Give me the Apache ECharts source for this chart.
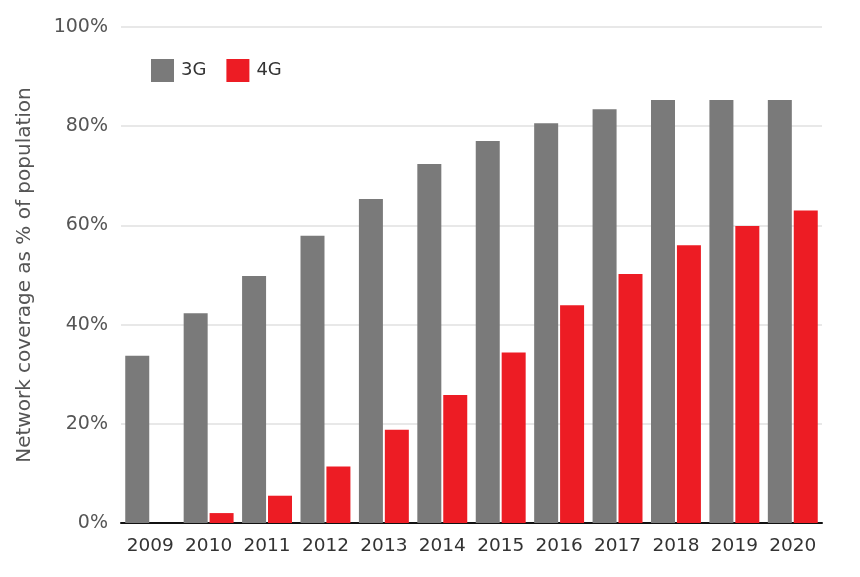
<!DOCTYPE html>
<html>
<head>
<meta charset="utf-8">
<script src="https://cdn.jsdelivr.net/npm/echarts@6/dist/echarts.min.js"></script>
<style>html,body{margin:0;padding:0;background:#fff}#c{width:860px;height:577px}</style>
</head>
<body>
<div id="c"></div>
<script>
const years = ['2009','2010','2011','2012','2013','2014','2015','2016','2017','2018','2019','2020'];
const coverage3G = [33.7, 42.3, 49.8, 57.9, 65.3, 72.4, 77.0, 80.6, 83.4, 85.3, 85.3, 85.3];
const coverage4G = [0, 2.0, 5.5, 11.4, 18.8, 25.8, 34.4, 43.9, 50.2, 56.0, 59.9, 63.0];
const yTicks = [0, 20, 40, 60, 80, 100];

const font = '"DejaVu Sans", sans-serif';
const chart = echarts.init(document.getElementById('c'));
chart.setOption({
  animation: false,
  textStyle: { fontFamily: font },
  grid: { left: 121, right: 38, top: 27, bottom: 54 },
  legend: {
    left: 146, top: 54,
    itemWidth: 23, itemHeight: 23, itemGap: 20,
    textStyle: { fontSize: 18, color: '#333', fontFamily: font, padding: [0, 0, 0, 2] },
    icon: 'rect',
    data: ['3G', '4G']
  },
  xAxis: {
    type: 'category',
    data: years,
    axisLine: { lineStyle: { color: '#111', width: 2 } },
    axisTick: { show: false },
    axisLabel: { interval: 0, fontSize: 18.5, color: '#333', margin: 14, fontFamily: font }
  },
  yAxis: {
    type: 'value',
    min: 0, max: 100, interval: 20,
    name: 'Network coverage as % of population',
    nameLocation: 'middle',
    nameGap: 86,
    nameTextStyle: { fontSize: 20, color: '#555', fontFamily: font },
    axisLine: { show: false },
    axisTick: { show: false },
    axisLabel: {
      fontSize: 19, color: '#555', margin: 13, fontFamily: font,
      formatter: v => yTicks.includes(v) ? v + '%' : ''
    },
    splitLine: { lineStyle: { color: '#e8e8e8', width: 2 } }
  },
  series: [
    { name: '3G', type: 'bar', data: coverage3G, itemStyle: { color: '#7a7a7a' },
      barWidth: 24, barGap: '8%' },
    { name: '4G', type: 'bar', data: coverage4G, itemStyle: { color: '#ed1c24' },
      barWidth: 24, barGap: '8%' }
  ]
});
</script>
</body>
</html>
